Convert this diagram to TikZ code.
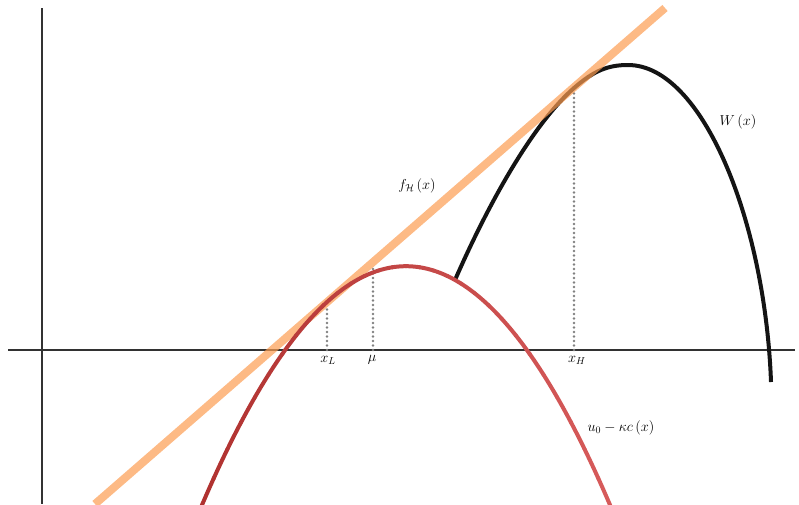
\documentclass[tikz,border=0pt]{standalone}
\usepackage{amsmath}
\definecolor{redL}{RGB}{176,50,48}
\definecolor{redR}{RGB}{214,90,90}
\definecolor{orangeT}{RGB}{252,156,81}
\definecolor{axisC}{RGB}{50,50,50}
\definecolor{dotC}{RGB}{128,128,128}
\definecolor{wC}{RGB}{20,20,20}
\tikzset{
  axisline/.style={draw=axisC, line width=1.5pt},
  wcurve/.style={draw=wC, line width=4pt},
  tangentline/.style={draw=orangeT, line width=8pt, draw opacity=0.7},
  guidedot/.style={fill=dotC},
  lbl/.style={font=\fontsize{14}{16}\selectfont, inner sep=0pt}
}
\begin{document}
\begin{tikzpicture}[x=1pt,y=-1pt]
\useasboundingbox (0,0) rectangle (799,504);
\clip (0,0) rectangle (799,504);
% axes
\coordinate (yt) at (42,8);
\coordinate (yb) at (42,504);
\coordinate (xl) at (8,350);
\coordinate (xr) at (795,350);
\draw[axisline] (yt) -- (yb);
\draw[axisline] (xl) -- (xr);
% guide lines (dotted)
\foreach \gx/\gtop in {327/308, 373/265, 574/90}{
  \pgfmathtruncatemacro\n{(350-\gtop)/4.5}
  \foreach \k in {0,...,\n}{
    \fill[guidedot] (\gx,{350-\k*4.5}) circle[radius=1.4pt];
  }
}
% W curve
\coordinate (w0) at (455,280);
\coordinate (wt) at (574,88);
\coordinate (wp) at (628,65);
\coordinate (we) at (771,382);
\draw[wcurve] (w0) .. controls (490,200) and (534,123) .. (wt)
  .. controls (594,70.6) and (608,65) .. (wp)
  .. controls (702,65) and (765,220) .. (we);
% tangent line
\coordinate (ta) at (95,504);
\coordinate (tb) at (665,8);
\draw[tangentline] (ta) -- (tb);
% red parabola with gradient
\foreach \i in {0,...,29}{
  \pgfmathsetmacro\a{200+\i*412/30}
  \pgfmathsetmacro\b{\a+412/30}
  \pgfmathtruncatemacro\m{100-\i*100/29}
  \draw[line width=4pt, line cap=round, color={redL!\m!redR}, domain=\a:\b, samples=6]
    plot (\x,{266.2+0.00574*(\x-406)*(\x-406)});
}
% labels
\node[lbl] (fH) at (417,186) {$f_{\mathcal{H}}\,(x)$};
\node[lbl] (W) at (738,122) {$W\,(x)$};
\node[lbl] (xL) at (328,360) {$x_L$};
\node[lbl] (mu) at (372,360) {$\mu$};
\node[lbl] (xH) at (577,360) {$x_H$};
\node[lbl] (u0) at (621,428) {$u_0-\kappa c\,(x)$};
\end{tikzpicture}
\end{document}
